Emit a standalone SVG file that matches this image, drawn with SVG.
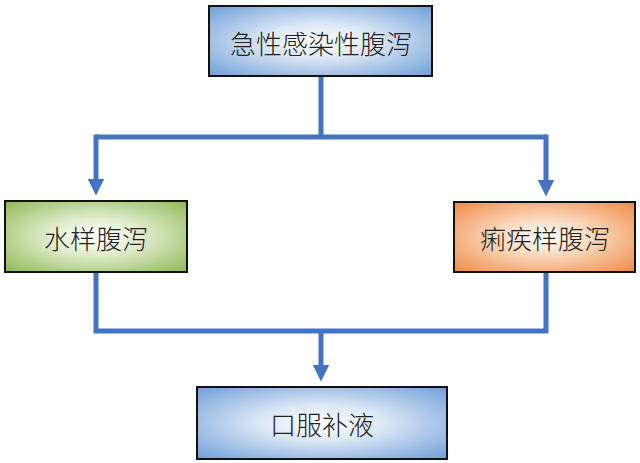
<svg xmlns="http://www.w3.org/2000/svg" width="640" height="463" viewBox="0 0 640 463">
<defs>
<radialGradient id="gBlue" cx="0.5" cy="0.5" r="0.7">
<stop offset="0" stop-color="#ffffff"/>
<stop offset="0.35" stop-color="#dce8f5"/>
<stop offset="1" stop-color="#6f9fd8"/>
</radialGradient>
<radialGradient id="gGreen" cx="0.5" cy="0.5" r="0.7">
<stop offset="0" stop-color="#ffffff"/>
<stop offset="0.35" stop-color="#e3eed0"/>
<stop offset="1" stop-color="#8fb956"/>
</radialGradient>
<radialGradient id="gOrange" cx="0.5" cy="0.5" r="0.7">
<stop offset="0" stop-color="#ffffff"/>
<stop offset="0.35" stop-color="#fbdcc2"/>
<stop offset="1" stop-color="#ef8a45"/>
</radialGradient>
<marker id="arr" markerWidth="3.4" markerHeight="3.4" refX="1.3" refY="1.7" orient="auto" markerUnits="strokeWidth" viewBox="0 0 3.4 3.4">
<path d="M0,0 L3.4,1.7 L0,3.4 z" fill="#4472c4"/>
</marker>
<style>
.box{stroke:#111;stroke-width:2}
.lbl{font-family:"Noto Sans CJK SC","Noto Sans",sans-serif;font-size:26px;font-weight:300;fill:#222;text-anchor:middle;dominant-baseline:central}
.ln{fill:none;stroke:#4472c4;stroke-width:5}
</style>
</defs>
<rect width="640" height="463" fill="#ffffff"/>
<g id="connectors">
<path class="ln" d="M321,76 V137 M96,137 H546"/>
<path class="ln" d="M96,134.5 V185" marker-end="url(#arr)"/>
<path class="ln" d="M546,134.5 V186" marker-end="url(#arr)"/>
<path class="ln" d="M96,272 V331 H546 V272"/>
<path class="ln" d="M321,331 V371" marker-end="url(#arr)"/>
</g>
<g id="n1">
<rect class="box" x="209" y="6" width="223" height="70" fill="url(#gBlue)"/>
<text class="lbl" x="321" y="42">急性感染性腹泻</text>
</g>
<g id="n2">
<rect class="box" x="5" y="201" width="182" height="71" fill="url(#gGreen)"/>
<text class="lbl" x="96" y="237">水样腹泻</text>
</g>
<g id="n3">
<rect class="box" x="454" y="202" width="181" height="70" fill="url(#gOrange)"/>
<text class="lbl" x="545" y="237">痢疾样腹泻</text>
</g>
<g id="n4">
<rect class="box" x="197" y="387" width="250" height="72" fill="url(#gBlue)"/>
<text class="lbl" x="322" y="423">口服补液</text>
</g>
</svg>
